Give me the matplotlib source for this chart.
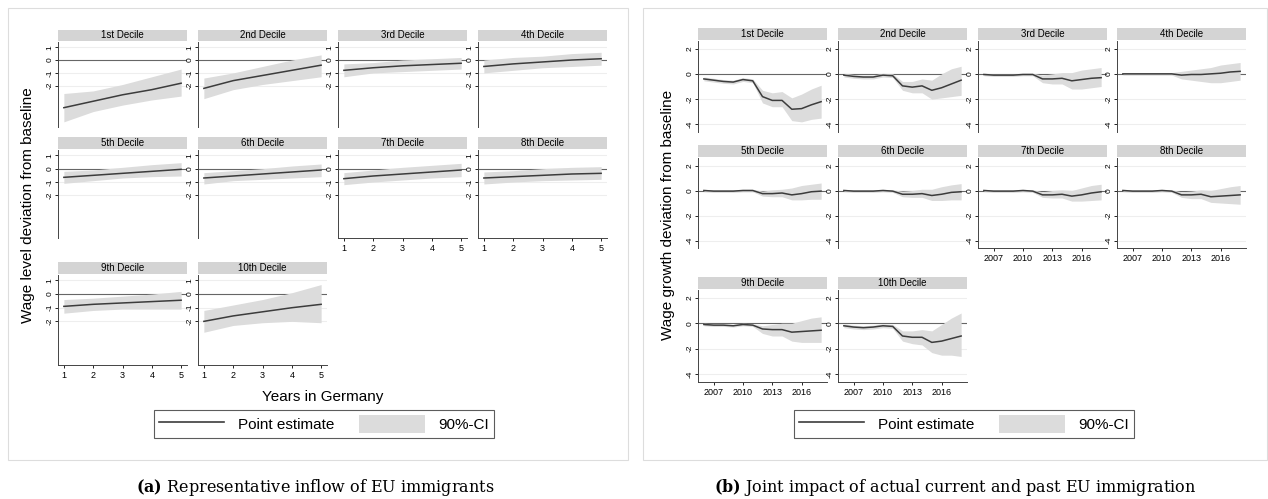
import numpy as np
import matplotlib
matplotlib.use("Agg")
import matplotlib.pyplot as plt
from matplotlib.patches import Rectangle, Patch
from matplotlib.lines import Line2D

plt.rcParams["font.family"] = ["Liberation Sans", "DejaVu Sans"]
plt.rcParams["mathtext.fontset"] = "dejavuserif"

W, H = 1268, 499

DECILES = ["1st Decile", "2nd Decile", "3rd Decile", "4th Decile", "5th Decile",
           "6th Decile", "7th Decile", "8th Decile", "9th Decile", "10th Decile"]

# (a) years in Germany
anos = [1, 2, 3, 4, 5]
nivel_est = [
    [-3.7, -3.2, -2.7, -2.3, -1.8],
    [-2.2, -1.6, -1.2, -0.8, -0.4],
    [-0.8, -0.6, -0.45, -0.35, -0.25],
    [-0.5, -0.3, -0.15, 0.0, 0.1],
    [-0.65, -0.5, -0.35, -0.2, -0.05],
    [-0.7, -0.55, -0.4, -0.25, -0.1],
    [-0.75, -0.55, -0.4, -0.25, -0.1],
    [-0.7, -0.6, -0.5, -0.4, -0.35],
    [-0.9, -0.75, -0.65, -0.55, -0.45],
    [-2.0, -1.6, -1.3, -1.0, -0.75],
]
nivel_lo = [
    [-4.8, -4.0, -3.5, -3.1, -2.8],
    [-3.0, -2.3, -1.9, -1.6, -1.3],
    [-1.3, -1.0, -0.9, -0.8, -0.7],
    [-1.0, -0.8, -0.6, -0.5, -0.4],
    [-1.1, -0.9, -0.7, -0.6, -0.55],
    [-1.15, -0.9, -0.8, -0.7, -0.6],
    [-1.2, -1.0, -0.85, -0.7, -0.6],
    [-1.15, -1.0, -0.9, -0.85, -0.8],
    [-1.4, -1.2, -1.1, -1.1, -1.1],
    [-2.8, -2.3, -2.1, -2.0, -2.1],
]
nivel_hi = [
    [-2.6, -2.4, -1.9, -1.3, -0.7],
    [-1.4, -1.0, -0.5, 0.0, 0.4],
    [-0.3, -0.2, 0.0, 0.1, 0.2],
    [0.0, 0.2, 0.3, 0.5, 0.6],
    [-0.2, -0.1, 0.1, 0.3, 0.45],
    [-0.3, -0.15, 0.0, 0.2, 0.35],
    [-0.3, -0.1, 0.1, 0.25, 0.4],
    [-0.25, -0.15, 0.0, 0.1, 0.15],
    [-0.4, -0.3, -0.15, 0.0, 0.2],
    [-1.2, -0.8, -0.4, 0.1, 0.7],
]

# (b) calendar years
periodo = list(range(2006, 2019))
cresc_est = [
    [-0.4, -0.5, -0.6, -0.65, -0.45, -0.55, -1.8, -2.1, -2.1, -2.8, -2.75, -2.45, -2.2],
    [-0.1, -0.2, -0.25, -0.25, -0.1, -0.15, -0.95, -1.05, -0.95, -1.3, -1.1, -0.8, -0.5],
    [-0.05, -0.1, -0.1, -0.1, -0.05, -0.05, -0.4, -0.4, -0.35, -0.55, -0.45, -0.35, -0.3],
    [0.0, 0.0, 0.0, 0.0, 0.0, 0.0, -0.1, -0.05, -0.05, 0.0, 0.05, 0.15, 0.2],
    [0.0, -0.05, -0.05, -0.05, 0.0, 0.0, -0.25, -0.25, -0.2, -0.35, -0.25, -0.1, -0.05],
    [0.0, -0.05, -0.05, -0.05, 0.0, -0.05, -0.3, -0.3, -0.25, -0.4, -0.3, -0.15, -0.1],
    [0.0, -0.05, -0.05, -0.05, 0.0, -0.05, -0.35, -0.35, -0.3, -0.45, -0.35, -0.2, -0.1],
    [0.0, -0.05, -0.05, -0.05, 0.0, -0.05, -0.35, -0.35, -0.3, -0.5, -0.45, -0.4, -0.35],
    [-0.1, -0.15, -0.15, -0.2, -0.1, -0.15, -0.45, -0.5, -0.5, -0.7, -0.65, -0.6, -0.55],
    [-0.2, -0.3, -0.35, -0.3, -0.2, -0.25, -1.0, -1.1, -1.1, -1.5, -1.4, -1.2, -1.0],
]
cresc_lo = [
    [-0.55, -0.65, -0.75, -0.8, -0.6, -0.7, -2.3, -2.6, -2.6, -3.7, -3.8, -3.6, -3.5],
    [-0.25, -0.35, -0.4, -0.4, -0.25, -0.3, -1.3, -1.5, -1.5, -2.0, -1.9, -1.8, -1.7],
    [-0.15, -0.2, -0.2, -0.2, -0.15, -0.15, -0.7, -0.8, -0.8, -1.2, -1.2, -1.1, -1.0],
    [-0.1, -0.1, -0.1, -0.1, -0.1, -0.1, -0.4, -0.5, -0.6, -0.7, -0.7, -0.6, -0.5],
    [-0.1, -0.15, -0.15, -0.15, -0.1, -0.1, -0.45, -0.5, -0.5, -0.75, -0.75, -0.7, -0.7],
    [-0.1, -0.15, -0.15, -0.15, -0.1, -0.15, -0.5, -0.55, -0.55, -0.8, -0.8, -0.75, -0.75],
    [-0.1, -0.15, -0.15, -0.15, -0.1, -0.15, -0.55, -0.6, -0.6, -0.85, -0.85, -0.8, -0.75],
    [-0.1, -0.15, -0.15, -0.15, -0.1, -0.15, -0.55, -0.65, -0.65, -0.95, -1.0, -1.05, -1.1],
    [-0.2, -0.25, -0.25, -0.3, -0.2, -0.25, -0.8, -1.0, -1.0, -1.4, -1.5, -1.5, -1.5],
    [-0.35, -0.45, -0.5, -0.45, -0.35, -0.4, -1.4, -1.6, -1.7, -2.3, -2.5, -2.5, -2.6],
]
cresc_hi = [
    [-0.25, -0.35, -0.45, -0.5, -0.3, -0.4, -1.3, -1.5, -1.4, -1.9, -1.6, -1.2, -0.9],
    [0.05, -0.05, -0.1, -0.1, 0.05, 0.0, -0.6, -0.6, -0.4, -0.5, 0.0, 0.4, 0.6],
    [0.05, 0.0, 0.0, 0.0, 0.05, 0.05, -0.1, 0.0, 0.1, 0.1, 0.3, 0.4, 0.5],
    [0.1, 0.1, 0.1, 0.1, 0.1, 0.1, 0.2, 0.3, 0.4, 0.5, 0.7, 0.8, 0.9],
    [0.1, 0.05, 0.05, 0.05, 0.1, 0.1, -0.05, 0.05, 0.1, 0.2, 0.4, 0.5, 0.6],
    [0.1, 0.05, 0.05, 0.05, 0.1, 0.05, -0.05, 0.0, 0.1, 0.1, 0.3, 0.45, 0.55],
    [0.1, 0.05, 0.05, 0.05, 0.1, 0.05, -0.1, 0.0, 0.05, 0.0, 0.2, 0.4, 0.5],
    [0.1, 0.05, 0.05, 0.05, 0.1, 0.05, -0.1, -0.05, 0.05, 0.0, 0.15, 0.3, 0.4],
    [0.0, -0.05, -0.05, -0.1, 0.0, -0.05, -0.2, -0.1, 0.0, 0.0, 0.2, 0.4, 0.5],
    [-0.05, -0.15, -0.2, -0.15, -0.05, -0.1, -0.6, -0.6, -0.5, -0.6, -0.1, 0.4, 0.8],
]

FILL = "#dcdcdc"
LINE = "#3c3c3c"
STRIP = "#d4d4d4"

fig = plt.figure(figsize=(W / 100, H / 100), dpi=100)


def px_axes(x0, y0, x1, y1):
    return fig.add_axes([x0 / W, 1 - y1 / H, (x1 - x0) / W, (y1 - y0) / H])


def painel(x0, strip_top, ax_top, ax_bot, titulo, xs, est, lo, hi,
           ylim, yticks, xlim, xticks, mostra_x):
    s = px_axes(x0, strip_top, x0 + 129, ax_top - 1)
    s.set_facecolor(STRIP)
    for sp in s.spines.values():
        sp.set_visible(False)
    s.set_xticks([]); s.set_yticks([])
    s.text(0.5, 0.5, titulo, ha="center", va="center", fontsize=7, transform=s.transAxes)

    ax = px_axes(x0, ax_top, x0 + 129, ax_bot)
    ax.fill_between(xs, lo, hi, color=FILL, lw=0)
    ax.plot(xs, est, color=LINE, lw=1.1)
    ax.axhline(0, color="#666666", lw=0.8, zorder=0)
    for t in yticks:
        if t != 0:
            ax.axhline(t, color="#eeeeee", lw=0.8, zorder=-1)
    ax.set_ylim(*ylim)
    ax.set_xlim(*xlim)
    ax.set_yticks(yticks)
    ax.set_yticklabels([str(t) for t in yticks], rotation=90, va="center", fontsize=6)
    for k in ["top", "right"]:
        ax.spines[k].set_visible(False)
    ax.spines["left"].set_color("#444444")
    ax.spines["left"].set_linewidth(0.7)
    ax.tick_params(axis="y", length=2, width=0.6, pad=1)
    if mostra_x:
        ax.set_xticks(xticks)
        ax.set_xticklabels([str(t) for t in xticks], fontsize=6.5)
        ax.spines["bottom"].set_color("#444444")
        ax.spines["bottom"].set_linewidth(0.7)
        ax.tick_params(axis="x", length=2, width=0.6, pad=2)
    else:
        ax.spines["bottom"].set_visible(False)
        ax.set_xticks([])
    return ax


# outer boxes
for bx in [(8, 8, 628, 460), (643, 8, 1267, 460)]:
    fig.patches.append(Rectangle((bx[0] / W, 1 - bx[3] / H), (bx[2] - bx[0]) / W,
                                 (bx[3] - bx[1]) / H, transform=fig.transFigure,
                                 fill=False, ec="#dddddd", lw=0.8))

# (a)
cols_a = [58, 198, 338, 478]
rows_a = [(30, 42, 127), (137, 150, 238), (262, 275, 365)]
for i, nome in enumerate(DECILES):
    r, c = divmod(i, 4)
    st, at, ab = rows_a[r]
    mostra = (r == 2) or (r == 1 and c >= 2)
    painel(cols_a[c], st, at, ab, nome, anos, nivel_est[i], nivel_lo[i], nivel_hi[i],
           (-5.2, 1.4), [1, 0, -1, -2], (0.8, 5.2), anos, mostra)

fig.text(28 / W, 1 - 205 / H, "Wage level deviation from baseline", rotation=90,
         ha="center", va="center", fontsize=11)
fig.text(323 / W, 1 - 397 / H, "Years in Germany", ha="center", va="center", fontsize=11)

# (b)
cols_b = [698, 838, 978, 1117]
rows_b = [(28, 41, 132), (145, 158, 248), (277, 290, 382)]
for i, nome in enumerate(DECILES):
    r, c = divmod(i, 4)
    st, at, ab = rows_b[r]
    mostra = (r == 2) or (r == 1 and c >= 2)
    painel(cols_b[c], st, at, ab, nome, periodo, cresc_est[i], cresc_lo[i], cresc_hi[i],
           (-4.6, 2.6), [2, 0, -2, -4], (2005.4, 2018.6), [2007, 2010, 2013, 2016], mostra)

fig.text(668 / W, 1 - 215 / H, "Wage growth deviation from baseline", rotation=90,
         ha="center", va="center", fontsize=11)

# legends
handles = [Line2D([], [], color=LINE, lw=1.2), Patch(facecolor=FILL, edgecolor="none")]
for cx in [324, 964]:
    leg = fig.legend(handles, ["Point estimate", "90%-CI"], ncol=2, loc="center",
                     bbox_to_anchor=(cx / W, 1 - 424 / H), fontsize=11,
                     handlelength=4.3, handleheight=1.5, columnspacing=1.6,
                     fancybox=False, edgecolor="#333333", borderpad=0.3,
                     handletextpad=0.9)
    leg.get_frame().set_linewidth(0.8)

# captions
fig.text(315 / W, 1 - 487 / H, r"$\bf{(a)}$ Representative inflow of EU immigrants",
         ha="center", va="center", fontsize=11.5, family="DejaVu Serif")
fig.text(955 / W, 1 - 487 / H, r"$\bf{(b)}$ Joint impact of actual current and past EU immigration",
         ha="center", va="center", fontsize=11.5, family="DejaVu Serif")

fig.savefig("out.png", dpi=100, facecolor="white")
